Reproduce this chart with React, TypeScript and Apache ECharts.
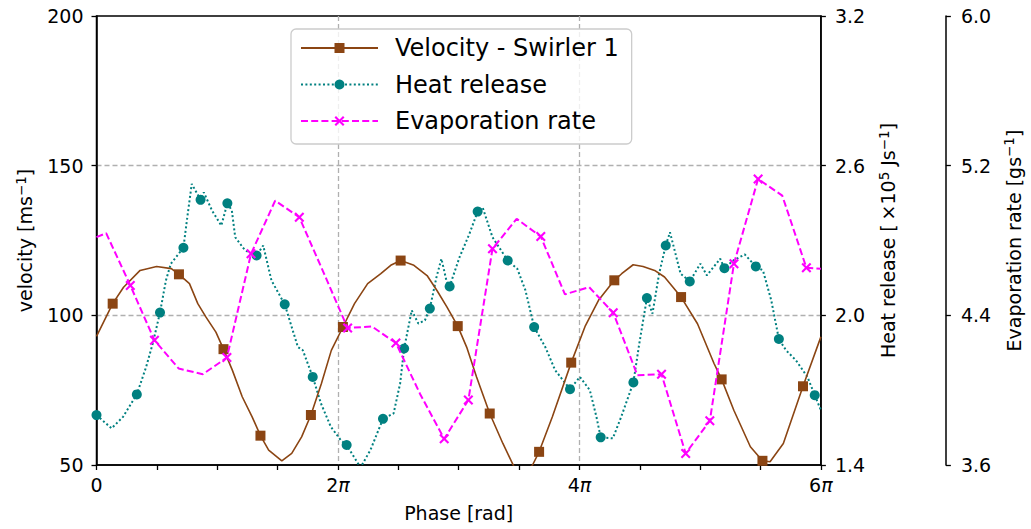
import React, { useEffect, useRef } from 'react';
import * as echarts from 'echarts';

// Phase values are in units of π (0 … 6 → 0 … 6π)
const velPhase = [0, 0.134, 0.224, 0.361, 0.498, 0.62, 0.683, 0.77, 0.839, 0.907, 0.989, 1.052, 1.125, 1.207, 1.289, 1.358, 1.426, 1.535, 1.617, 1.699, 1.776, 1.863, 1.945, 2.041, 2.137, 2.246, 2.355, 2.437, 2.519, 2.629, 2.738, 2.82, 2.902, 2.992, 3.066, 3.148, 3.257, 3.366, 3.475, 3.541, 3.612, 3.666, 3.776, 3.932, 4.049, 4.158, 4.289, 4.35, 4.445, 4.527, 4.623, 4.705, 4.842, 4.978, 5.115, 5.178, 5.279, 5.416, 5.516, 5.579, 5.689, 5.852, 6.0];
const velValues = [93, 103.9, 109.4, 115, 116.3, 115.6, 113.7, 110.6, 103.9, 99.4, 94.4, 88.7, 81.7, 72.8, 66.1, 59.8, 55, 51.4, 53.9, 59.4, 66.7, 77.2, 88.3, 96.1, 103.9, 110.6, 113.9, 116.7, 118.3, 116.7, 113.3, 108.3, 102.8, 96.4, 89.4, 79.4, 67.2, 57.2, 48, 47.5, 50, 54.4, 66.1, 84.2, 96.5, 105, 111.7, 113.9, 116.9, 116.3, 115, 112.8, 106.1, 97.2, 83.9, 78.6, 68.3, 56.1, 51.4, 51.1, 57.2, 76.3, 92.8];
const velMarkerPhase = [0.134, 0.683, 1.052, 1.358, 1.776, 2.041, 2.519, 2.992, 3.257, 3.666, 3.932, 4.289, 4.842, 5.178, 5.516, 5.852];

const heatPhase = [0, 0.125, 0.22, 0.334, 0.411, 0.466, 0.526, 0.575, 0.616, 0.72, 0.752, 0.789, 0.862, 0.889, 0.957, 1.034, 1.084, 1.121, 1.149, 1.231, 1.326, 1.381, 1.449, 1.559, 1.668, 1.709, 1.791, 1.859, 1.941, 2.023, 2.072, 2.187, 2.269, 2.373, 2.461, 2.515, 2.548, 2.611, 2.666, 2.72, 2.761, 2.816, 2.857, 2.898, 2.925, 3.007, 3.089, 3.157, 3.198, 3.28, 3.406, 3.485, 3.553, 3.625, 3.717, 3.799, 3.922, 4.004, 4.086, 4.141, 4.176, 4.277, 4.346, 4.447, 4.496, 4.559, 4.605, 4.66, 4.715, 4.75, 4.81, 4.838, 4.914, 5.002, 5.056, 5.166, 5.201, 5.275, 5.37, 5.461, 5.52, 5.589, 5.652, 5.711, 5.793, 5.889, 5.949, 6.0];
const heatValues = [1.6, 1.547, 1.593, 1.683, 1.793, 1.887, 2.011, 2.14, 2.207, 2.271, 2.393, 2.527, 2.463, 2.493, 2.42, 2.36, 2.449, 2.42, 2.313, 2.26, 2.24, 2.28, 2.14, 2.044, 1.873, 1.86, 1.753, 1.647, 1.553, 1.5, 1.48, 1.39, 1.46, 1.585, 1.607, 1.727, 1.867, 2.02, 1.967, 1.98, 2.027, 2.153, 2.227, 2.14, 2.116, 2.233, 2.327, 2.416, 2.433, 2.313, 2.22, 2.187, 2.1, 1.953, 1.873, 1.78, 1.704, 1.753, 1.7, 1.593, 1.511, 1.507, 1.593, 1.731, 1.887, 2.069, 2.007, 2.167, 2.28, 2.333, 2.22, 2.167, 2.136, 2.207, 2.16, 2.227, 2.189, 2.22, 2.244, 2.196, 2.18, 2.06, 1.905, 1.86, 1.82, 1.753, 1.68, 1.62];
const heatMarkerPhase = [0, 0.334, 0.526, 0.72, 0.862, 1.084, 1.326, 1.559, 1.791, 2.072, 2.373, 2.548, 2.761, 2.925, 3.157, 3.406, 3.625, 3.922, 4.176, 4.447, 4.559, 4.715, 4.914, 5.201, 5.461, 5.652, 5.949];

const evapPhase = [0, 0.08, 0.28, 0.48, 0.68, 0.88, 1.08, 1.28, 1.48, 1.68, 1.88, 2.08, 2.28, 2.48, 2.68, 2.88, 3.08, 3.28, 3.48, 3.68, 3.88, 4.08, 4.28, 4.48, 4.68, 4.88, 5.08, 5.28, 5.48, 5.68, 5.88, 6.0];
const evapValues = [4.818, 4.839, 4.56, 4.267, 4.116, 4.085, 4.174, 4.729, 5.013, 4.924, 4.63, 4.332, 4.341, 4.252, 3.98, 3.74, 3.947, 4.756, 4.916, 4.821, 4.512, 4.551, 4.414, 4.08, 4.085, 3.662, 3.836, 4.676, 5.129, 5.04, 4.654, 4.649];
const evapMarkerPhase = [0.28, 0.48, 1.08, 1.28, 1.68, 2.08, 2.48, 2.88, 3.08, 3.28, 3.68, 4.28, 4.68, 4.88, 5.08, 5.28, 5.48, 5.88];

const seriesNames = ['Velocity - Swirler 1', 'Heat release', 'Evaporation rate'];
const xTicks = [0, 2, 4, 6];
const xMinorTicks = [0, 0.5, 1, 1.5, 2, 2.5, 3, 3.5, 4, 4.5, 5, 5.5, 6];
const velTicks = [50, 100, 150, 200];
const heatTicks = [1.4, 2.0, 2.6, 3.2];
const evapTicks = [3.6, 4.4, 5.2, 6.0];

const FONT = 'DejaVu Sans';
const X_PATH = 'path://M0,1.5L1.5,0L5,3.5L8.5,0L10,1.5L6.5,5L10,8.5L8.5,10L5,6.5L1.5,10L0,8.5L3.5,5Z';

function buildData(phase: number[], values: number[], markers: number[]) {
  return phase.map((p, i) =>
    markers.indexOf(p) >= 0 ? { value: [p, values[i]] } : { value: [p, values[i]], symbol: 'none' }
  );
}

const axisLineStyle = { color: '#000', width: 1.5 };
const tickStyle = { color: '#000', width: 1.3 };
const gridLine = { color: '#b0b0b0', type: [5, 3] as any, width: 1.3 };

const nameRich = {
  a: { fontSize: 19, fontFamily: FONT, color: '#000' },
  s: { fontSize: 13.5, fontFamily: FONT, color: '#000', verticalAlign: 'bottom', padding: [0, 0, 9, 0] },
};

export default function App() {
  const ref = useRef<HTMLDivElement>(null);
  useEffect(() => {
    if (!ref.current) return;
    const chart = echarts.init(ref.current, null, { renderer: 'svg' });
    const labelStyle = { color: '#000', fontSize: 19, fontFamily: FONT };
    const nameStyle = { color: '#000', fontSize: 19, fontFamily: FONT, rich: nameRich };
    chart.setOption({
      animation: false,
      backgroundColor: '#fff',
      textStyle: { fontFamily: FONT },
      grid: { left: 96.5, right: 202.5, top: 16, bottom: 64, show: true, borderColor: '#000', borderWidth: 1.5, backgroundColor: 'transparent' },
      legend: {
        orient: 'vertical',
        left: 291,
        top: 29,
        padding: [7, 13, 11, 9],
        itemWidth: 77,
        itemHeight: 12.5,
        itemGap: 12.5,
        backgroundColor: 'rgba(255,255,255,0.8)',
        borderColor: '#cccccc',
        borderWidth: 1.3,
        borderRadius: 5,
        textStyle: { fontSize: 24, fontFamily: FONT, color: '#000', padding: [0, 0, 0, 12], lineHeight: 24 },
        data: seriesNames,
      },
      xAxis: [
        {
          type: 'value',
          position: 'bottom',
          min: xTicks[0],
          max: xTicks[xTicks.length - 1],
          interval: 2,
          axisLine: { onZero: false, lineStyle: axisLineStyle },
          axisTick: { show: true, length: 5, lineStyle: tickStyle, customValues: xMinorTicks },
          axisLabel: {
            margin: 10,
            ...labelStyle,
            customValues: xTicks,
            formatter: (v: number) => (v === 0 ? '{n|0}' : `{n|${v}}{p|π}`),
            rich: {
              n: { fontSize: 19, fontFamily: FONT, color: '#000' },
              p: { fontSize: 19, fontFamily: FONT, color: '#000', fontStyle: 'italic' },
            },
          },
          splitLine: { show: false },
          name: 'Phase [rad]',
          nameLocation: 'middle',
          nameGap: 38,
          nameTextStyle: { color: '#000', fontSize: 19, fontFamily: FONT },
        },
        {
          type: 'value',
          position: 'top',
          min: xTicks[0],
          max: xTicks[xTicks.length - 1],
          interval: 2,
          axisLine: { show: false, onZero: false },
          axisTick: { show: false },
          axisLabel: { show: false },
          splitLine: { show: true, showMinLine: false, showMaxLine: false, lineStyle: gridLine },
        },
      ],
      yAxis: [
        {
          type: 'value',
          position: 'left',
          min: velTicks[0],
          max: velTicks[velTicks.length - 1],
          interval: 50,
          axisLine: { show: true, onZero: false, lineStyle: axisLineStyle },
          axisTick: { show: true, length: 5, lineStyle: tickStyle },
          axisLabel: { margin: 13, ...labelStyle },
          splitLine: { show: true, showMinLine: false, showMaxLine: false, lineStyle: gridLine },
          name: '{a|velocity [ms}{s|−1}{a|]}',
          nameLocation: 'middle',
          nameGap: 60,
          nameRotate: 90,
          nameTextStyle: nameStyle,
        },
        {
          type: 'value',
          position: 'right',
          min: heatTicks[0],
          max: heatTicks[heatTicks.length - 1],
          axisLine: { show: true, onZero: false, lineStyle: axisLineStyle },
          axisTick: { show: true, length: 5, lineStyle: tickStyle, customValues: heatTicks },
          axisLabel: { margin: 14, ...labelStyle, customValues: heatTicks, formatter: (v: number) => v.toFixed(1) },
          splitLine: { show: false },
          name: '{a|Heat release [\u2009×10}{s|5}{a| Js}{s|−1}{a|]}',
          nameLocation: 'middle',
          nameGap: 56,
          nameRotate: 90,
          nameTextStyle: nameStyle,
        },
        {
          type: 'value',
          position: 'right',
          offset: 125,
          min: evapTicks[0],
          max: evapTicks[evapTicks.length - 1],
          axisLine: { show: true, onZero: false, lineStyle: axisLineStyle },
          axisTick: { show: true, length: 5, lineStyle: tickStyle, customValues: evapTicks },
          axisLabel: { margin: 15, ...labelStyle, customValues: evapTicks, formatter: (v: number) => v.toFixed(1) },
          splitLine: { show: false },
          name: '{a|Evaporation rate [gs}{s|−1}{a|]}',
          nameLocation: 'middle',
          nameGap: 56,
          nameRotate: 90,
          nameTextStyle: nameStyle,
        },
      ],
      series: [
        {
          name: seriesNames[0],
          type: 'line',
          xAxisIndex: 0,
          yAxisIndex: 0,
          data: buildData(velPhase, velValues, velMarkerPhase),
          symbol: 'rect',
          symbolSize: 10,
          showAllSymbol: true,
          lineStyle: { color: '#8B4513', width: 1.6, type: 'solid' },
          itemStyle: { color: '#8B4513' },
          z: 3,
        },
        {
          name: seriesNames[1],
          type: 'line',
          xAxisIndex: 0,
          yAxisIndex: 1,
          data: buildData(heatPhase, heatValues, heatMarkerPhase),
          symbol: 'circle',
          symbolSize: 10,
          showAllSymbol: true,
          lineStyle: { color: '#008080', width: 2, type: [2, 2.4] },
          itemStyle: { color: '#008080' },
          z: 2,
        },
        {
          name: seriesNames[2],
          type: 'line',
          xAxisIndex: 0,
          yAxisIndex: 2,
          data: buildData(evapPhase, evapValues, evapMarkerPhase),
          symbol: X_PATH,
          symbolSize: 10,
          showAllSymbol: true,
          lineStyle: { color: '#ff00ff', width: 2, type: [7, 3.2] },
          itemStyle: { color: '#ff00ff' },
          z: 4,
        },
      ],
    });
    return () => chart.dispose();
  }, []);
  return <div ref={ref} style={{ position: 'fixed', left: 0, top: 0, width: 1031, height: 529 }} />;
}
